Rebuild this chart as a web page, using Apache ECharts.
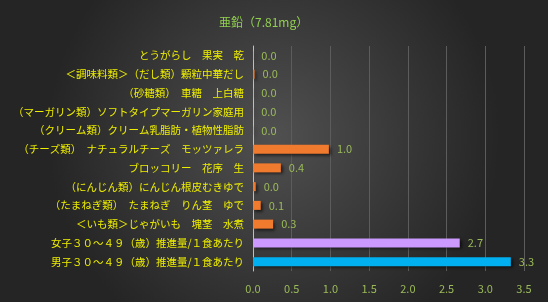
<!DOCTYPE html>
<html>
<head>
<meta charset="utf-8">
<script src="https://cdn.jsdelivr.net/npm/echarts@6/dist/echarts.min.js"></script>
<style>
html,body{margin:0;padding:0;background:#333;}
#c{width:548px;height:302px;}
</style>
</head>
<body>
<div id="c"></div>
<script>
const titleText = "亜鉛（7.81mg）";
const categories = [
  "とうがらし　果実　乾",
  "＜調味料類＞（だし類）顆粒中華だし",
  "（砂糖類）　車糖　上白糖",
  "（マーガリン類）ソフトタイプマーガリン家庭用",
  "（クリーム類）クリーム乳脂肪・植物性脂肪",
  "（チーズ類）　ナチュラルチーズ　モッツァレラ",
  "ブロッコリー　花序　生",
  "（にんじん類）にんじん根皮むきゆで",
  "（たまねぎ類）　たまねぎ　りん茎　ゆで",
  "＜いも類＞じゃがいも　塊茎　水煮",
  "女子３０～４９（歳）推進量/１食あたり",
  "男子３０～４９（歳）推進量/１食あたり"
];
const values = [0.004, 0.02, 0.003, 0.002, 0.004, 0.98, 0.36, 0.035, 0.1, 0.26, 2.67, 3.33];
const barColors = ["#F07A2E","#F07A2E","#F07A2E","#F07A2E","#F07A2E","#F07A2E","#F07A2E","#F07A2E","#F07A2E","#F07A2E","#CC99FF","#00B0F0"];
const tickValues = [0, 0.5, 1, 1.5, 2, 2.5, 3, 3.5];

const chart = echarts.init(document.getElementById('c'), null, {renderer:'canvas'});
chart.setOption({
  backgroundColor: {
    type: 'radial', x: 0.5, y: 0.45, r: 0.75,
    colorStops: [{offset:0, color:'#505050'}, {offset:1, color:'#252525'}]
  },
  animation: false,
  title: {
    text: titleText, left: 214, top: 11,
    textStyle: {color:'#92D050', fontSize:12, fontWeight:'normal', fontFamily:'Noto Sans CJK JP'}
  },
  grid: {left: 253, right: 24, top: 46, bottom: 31, containLabel: false},
  xAxis: {
    type: 'value', min: tickValues[0], max: tickValues[tickValues.length-1], interval: 0.5,
    axisLine: {show:false}, axisTick: {show:false},
    splitLine: {show:true, lineStyle:{color:'#5c5c5c', width:1}},
    axisLabel: {color:'#9BBB59', fontSize:11, margin:12, fontFamily:'Noto Sans CJK JP',
      formatter: v => v.toFixed(1)}
  },
  yAxis: {
    type: 'category', data: categories, inverse: true,
    axisLine: {show:true, lineStyle:{color:'#bfbfbf', width:1}},
    axisTick: {show:false},
    axisLabel: {color:'#EEEE00', fontSize:10.5, margin:9, fontFamily:'Noto Sans CJK JP'}
  },
  series: [{
    type: 'bar', barWidth: 9,
    data: values.map((v,i)=>({value:v, itemStyle:{color:barColors[i]}})),
    itemStyle: {shadowColor:'rgba(0,0,0,0.6)', shadowBlur:3, shadowOffsetX:2, shadowOffsetY:2},
    label: {show:true, position:'right', distance:8, color:'#9BBB59', fontSize:11,
      fontFamily:'Noto Sans CJK JP', formatter: p => p.value.toFixed(1)}
  }]
});
</script>
</body>
</html>
